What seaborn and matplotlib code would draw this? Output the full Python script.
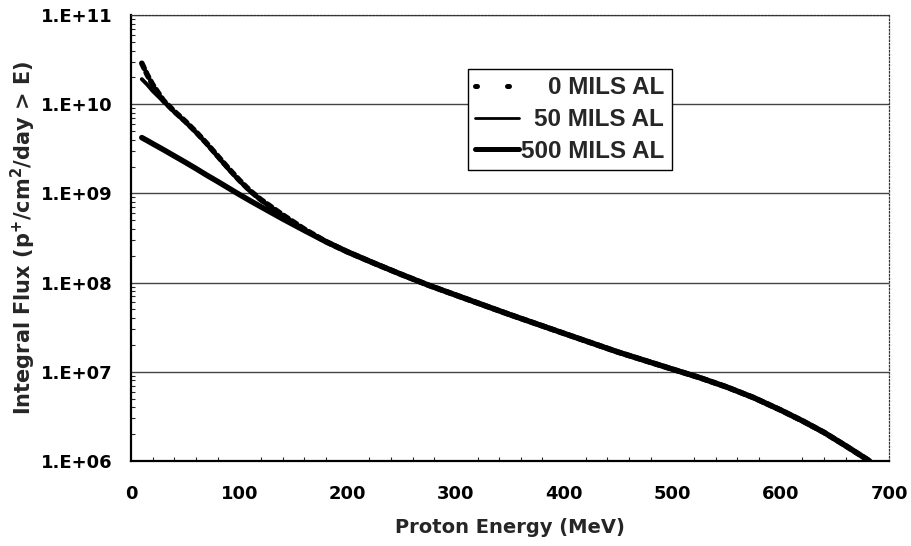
import matplotlib
matplotlib.use("Agg")
import matplotlib.pyplot as plt
from matplotlib.lines import Line2D
from matplotlib.ticker import FixedLocator, MultipleLocator, FuncFormatter, LogLocator, NullFormatter
import numpy as np
import pandas as pd
import seaborn as sns

# Integral proton flux behind aluminium shielding
energy_mev = [10, 15, 20, 30, 40, 50, 60, 70, 80, 90, 100, 110, 120, 140, 160,
              180, 200, 225, 250, 275, 300, 350, 400, 450, 500, 525, 550, 575,
              600, 620, 640, 660, 682]

flux_0_mils = [2.88e10, 2.14e10, 1.66e10, 1.10e10, 8.32e9, 6.46e9, 4.90e9, 3.63e9,
               2.63e9, 1.91e9, 1.41e9, 1.07e9, 8.51e8, 5.75e8, 3.98e8,
               2.88e8, 2.21e8, 1.64e8, 1.23e8, 9.33e7, 7.24e7, 4.37e7, 2.69e7,
               1.66e7, 1.07e7, 8.61e6, 6.76e6, 5.13e6,
               3.72e6, 2.82e6, 2.09e6, 1.48e6, 1.0e6]

flux_50_mils = [1.91e10, 1.66e10, 1.41e10, 1.07e10, 8.13e9, 6.31e9, 4.79e9, 3.55e9,
                2.57e9, 1.86e9, 1.38e9, 1.05e9, 8.32e8, 5.62e8, 3.98e8,
                2.88e8, 2.21e8, 1.64e8, 1.23e8, 9.33e7, 7.24e7, 4.37e7, 2.69e7,
                1.66e7, 1.07e7, 8.61e6, 6.76e6, 5.13e6,
                3.72e6, 2.82e6, 2.09e6, 1.48e6, 1.0e6]

flux_500_mils = [4.22e9, 3.91e9, 3.61e9, 3.09e9, 2.63e9, 2.24e9, 1.90e9, 1.60e9,
                 1.36e9, 1.15e9, 9.73e8, 8.28e8, 7.08e8, 5.19e8, 3.85e8,
                 2.88e8, 2.21e8, 1.64e8, 1.23e8, 9.33e7, 7.24e7, 4.37e7, 2.69e7,
                 1.66e7, 1.07e7, 8.61e6, 6.76e6, 5.13e6,
                 3.72e6, 2.82e6, 2.09e6, 1.48e6, 1.0e6]

series_labels = ["0 MILS AL", "50 MILS AL", "500 MILS AL"]
x_ticks = [0, 100, 200, 300, 400, 500, 600, 700]
y_ticks = [1e6, 1e7, 1e8, 1e9, 1e10, 1e11]

df = pd.concat([
    pd.DataFrame({"energy": energy_mev, "flux": vals, "shield": lab})
    for vals, lab in zip([flux_0_mils, flux_50_mils, flux_500_mils], series_labels)
])

sns.set_style("white")
plt.rcParams["font.family"] = ["DejaVu Sans"]
plt.rcParams["font.weight"] = "bold"
plt.rcParams["mathtext.fontset"] = "custom"
plt.rcParams["mathtext.rm"] = "DejaVu Sans:bold"
plt.rcParams["mathtext.bf"] = "DejaVu Sans:bold"
plt.rcParams["mathtext.default"] = "bf"

fig = plt.figure(figsize=(9.12, 5.46), dpi=100)
ax = fig.add_axes([0.1436, 0.1557, 0.8312, 0.8168])

styles = {
    "0 MILS AL": dict(lw=4.0, ls=(0, (1.0, 0.8)), dash_capstyle="round"),
    "50 MILS AL": dict(lw=2.8, ls="-"),
    "500 MILS AL": dict(lw=4.0, ls="-"),
}
for lab in series_labels:
    sub = df[df["shield"] == lab]
    sns.lineplot(data=sub, x="energy", y="flux", ax=ax, color="black",
                 legend=False, zorder=3, **styles[lab])

ax.set_yscale("log")
ax.set_xlim(0, 700)
ax.set_ylim(1e6, 1e11)

ax.xaxis.set_major_locator(FixedLocator(x_ticks))
ax.xaxis.set_minor_locator(MultipleLocator(20))
ax.yaxis.set_major_locator(FixedLocator(y_ticks))
ax.yaxis.set_minor_locator(LogLocator(base=10, subs=np.arange(2, 10)))
ax.yaxis.set_minor_formatter(NullFormatter())
ax.yaxis.set_major_formatter(FuncFormatter(lambda v, p: "1.E+%02d" % int(round(np.log10(v)))))

ax.tick_params(axis="x", which="major", direction="in", length=5, width=1,
               pad=17, labelsize=13, colors="black", top=False)
ax.tick_params(axis="x", which="minor", direction="in", length=3, width=0.8,
               bottom=True, top=False)
ax.tick_params(axis="y", which="major", direction="in", length=5, width=1,
               pad=13, labelsize=13, colors="black", right=False)
ax.tick_params(axis="y", which="minor", direction="in", length=3, width=0.8,
               left=True, right=False)
for lbl in ax.get_xticklabels() + ax.get_yticklabels():
    lbl.set_fontweight("bold")

ax.grid(axis="y", which="major", color="#444444", lw=1.0)
ax.grid(axis="x", visible=False)
ax.set_axisbelow(True)

for side in ["left", "bottom"]:
    ax.spines[side].set_color("black")
    ax.spines[side].set_linewidth(1.6)
for side in ["top", "right"]:
    ax.spines[side].set_color("#333333")
    ax.spines[side].set_linewidth(0.9)
    ax.spines[side].set_linestyle((0, (1.2, 1.6)))

ax.set_xlabel("Proton Energy (MeV)", fontsize=14, fontweight="bold")
ax.set_ylabel("Integral Flux (p$^{+}$/cm$^{2}$/day > E)", fontsize=15, fontweight="bold")
ax.xaxis.set_label_coords(0.5, -0.128)
ax.yaxis.set_label_coords(-0.122, 0.5)

handles = [
    Line2D([], [], color="black", lw=3.6, ls=(0, (0.4, 6.0)), dash_capstyle="round"),
    Line2D([], [], color="black", lw=2.0, ls="-"),
    Line2D([], [], color="black", lw=3.6, ls="-"),
]
leg = ax.legend(handles, series_labels, loc="upper left", bbox_to_anchor=(0.4446, 0.879),
                borderaxespad=0, frameon=True, fancybox=False, framealpha=1,
                edgecolor="black",
                prop={"family": "Liberation Sans", "size": 17.5, "weight": "bold"},
                handlelength=1.78, handletextpad=0.1, borderpad=0.3,
                labelspacing=0.36)
leg.get_frame().set_linewidth(1.0)
leg.set_zorder(5)

# right-align the legend labels inside their column
fig.canvas.draw()
texts = leg.get_texts()
widths = [t.get_window_extent().width for t in texts]
w = max(widths)
for t, tw in zip(texts, widths):
    t.set_position((w - tw, 0))

fig.savefig("out.png", dpi=100, facecolor="white")
